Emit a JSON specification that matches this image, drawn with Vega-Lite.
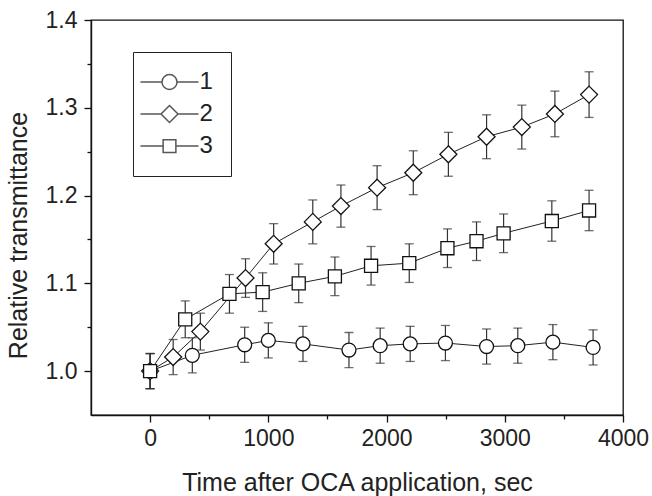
{
  "$schema": "https://vega.github.io/schema/vega-lite/v6.json",
  "width": 532,
  "height": 395,
  "autosize": {"type": "none"},
  "padding": {"left": 91, "top": 20, "right": 29, "bottom": 81},
  "background": "white",
  "config": {
    "font": "Liberation Sans",
    "view": {"stroke": "#111", "strokeWidth": 1.3},
    "axis": {
      "domainColor": "#111",
      "domainWidth": 1.4,
      "tickColor": "#111",
      "tickWidth": 1.3,
      "grid": false,
      "labelFont": "Liberation Sans",
      "labelFontSize": 23,
      "labelColor": "#222",
      "titleFont": "Liberation Sans",
      "titleFontSize": 25,
      "titleFontWeight": "normal",
      "titleColor": "#222"
    }
  },
  "datasets": {
    "points": [
      {"series": "1", "t": 0, "v": 1.000, "err": 0.020},
      {"series": "1", "t": 357, "v": 1.018, "err": 0.020},
      {"series": "1", "t": 800, "v": 1.030, "err": 0.020},
      {"series": "1", "t": 1000, "v": 1.035, "err": 0.020},
      {"series": "1", "t": 1293, "v": 1.031, "err": 0.020},
      {"series": "1", "t": 1682, "v": 1.024, "err": 0.020},
      {"series": "1", "t": 1946, "v": 1.029, "err": 0.020},
      {"series": "1", "t": 2200, "v": 1.031, "err": 0.020},
      {"series": "1", "t": 2498, "v": 1.032, "err": 0.020},
      {"series": "1", "t": 2846, "v": 1.028, "err": 0.020},
      {"series": "1", "t": 3110, "v": 1.029, "err": 0.020},
      {"series": "1", "t": 3407, "v": 1.033, "err": 0.020},
      {"series": "1", "t": 3747, "v": 1.027, "err": 0.020},
      {"series": "2", "t": 0, "v": 1.000, "err": 0.020},
      {"series": "2", "t": 195, "v": 1.016, "err": 0.020},
      {"series": "2", "t": 425, "v": 1.045, "err": 0.021},
      {"series": "2", "t": 807, "v": 1.106, "err": 0.022},
      {"series": "2", "t": 1045, "v": 1.145, "err": 0.023},
      {"series": "2", "t": 1376, "v": 1.170, "err": 0.025},
      {"series": "2", "t": 1614, "v": 1.188, "err": 0.024},
      {"series": "2", "t": 1920, "v": 1.209, "err": 0.025},
      {"series": "2", "t": 2226, "v": 1.226, "err": 0.025},
      {"series": "2", "t": 2523, "v": 1.247, "err": 0.025},
      {"series": "2", "t": 2846, "v": 1.267, "err": 0.025},
      {"series": "2", "t": 3144, "v": 1.278, "err": 0.025},
      {"series": "2", "t": 3424, "v": 1.293, "err": 0.026},
      {"series": "2", "t": 3713, "v": 1.315, "err": 0.026},
      {"series": "3", "t": 0, "v": 1.000, "err": 0.020},
      {"series": "3", "t": 297, "v": 1.059, "err": 0.021},
      {"series": "3", "t": 671, "v": 1.088, "err": 0.022},
      {"series": "3", "t": 952, "v": 1.090, "err": 0.022},
      {"series": "3", "t": 1257, "v": 1.100, "err": 0.022},
      {"series": "3", "t": 1563, "v": 1.108, "err": 0.022},
      {"series": "3", "t": 1869, "v": 1.120, "err": 0.022},
      {"series": "3", "t": 2192, "v": 1.123, "err": 0.022},
      {"series": "3", "t": 2515, "v": 1.140, "err": 0.022},
      {"series": "3", "t": 2761, "v": 1.148, "err": 0.022},
      {"series": "3", "t": 2990, "v": 1.157, "err": 0.022},
      {"series": "3", "t": 3398, "v": 1.171, "err": 0.023},
      {"series": "3", "t": 3713, "v": 1.183, "err": 0.023}
    ],
    "legendOnly": []
  },
  "data": {"name": "points"},
  "encoding": {
    "x": {
      "field": "t",
      "type": "quantitative",
      "scale": {"domain": [-500, 4000], "nice": false, "zero": false},
      "axis": {
        "title": "Time after OCA application, sec",
        "values": [0, 500, 1000, 1500, 2000, 2500, 3000, 3500, 4000],
        "format": "d",
        "labelExpr": "datum.value % 1000 === 0 ? datum.label : ''",
        "tickSize": {"condition": {"test": "datum.value % 1000 === 0", "value": 7}, "value": 4},
        "labelPadding": 5,
        "labelFlush": false,
        "labelOverlap": false,
        "titleBaseline": "alphabetic",
        "titleY": 75
      }
    },
    "y": {
      "field": "v",
      "type": "quantitative",
      "scale": {"domain": [0.95, 1.4], "nice": false, "zero": false},
      "axis": {
        "title": "Relative transmittance",
        "values": [1.0, 1.05, 1.1, 1.15, 1.2, 1.25, 1.3, 1.35, 1.4],
        "format": ".1f",
        "labelExpr": "abs(datum.value * 10 - round(datum.value * 10)) < 0.01 ? datum.label : ''",
        "tickSize": {"condition": {"test": "abs(datum.value * 10 - round(datum.value * 10)) < 0.01", "value": 7}, "value": 4},
        "labelPadding": 7,
        "labelFlush": false,
        "labelOverlap": false,
        "titleX": -73,
        "titleY": 215,
        "titleAngle": -90,
        "titleBaseline": "middle",
        "titleAlign": "center"
      }
    }
  },
  "layer": [
    {
      "mark": {"type": "line", "color": "#222", "strokeWidth": 1},
      "encoding": {"detail": {"field": "series", "type": "nominal"}, "order": {"field": "t", "type": "quantitative"}}
    },
    {
      "mark": {"type": "errorbar", "color": "#333", "ticks": {"size": 9, "thickness": 1.3}, "rule": {"strokeWidth": 1.2}},
      "encoding": {
        "yError": {"field": "err"},
        "detail": {"field": "series", "type": "nominal"}
      }
    },
    {
      "mark": {"type": "point", "filled": false, "color": "#111", "fill": "white", "fillOpacity": 1, "stroke": "#111", "strokeWidth": 1.3, "size": 225, "opacity": 1},
      "encoding": {
        "shape": {
          "field": "series",
          "type": "nominal",
          "scale": {
            "domain": ["1", "2", "3"],
            "range": [
              "M0.93,0A0.93,0.93,0,1,1,-0.93,0A0.93,0.93,0,1,1,0.93,0Z",
              "M0,-1.13L1.13,0L0,1.13L-1.13,0Z",
              "M-0.87,-0.87H0.87V0.87H-0.87Z"
            ]
          },
          "legend": null
        }
      }
    },
    {
      "data": {"name": "legendOnly"},
      "mark": {"type": "point", "filled": false, "color": "#111", "fill": "white", "stroke": "#111", "size": 225},
      "encoding": {
        "shape": {
          "field": "series",
          "type": "nominal",
          "scale": {
            "domain": ["1", "2", "3"],
            "range": [
              "M-3.87,0H-1M1,0H3.87M1,0A1,1,0,1,1,-1,0A1,1,0,1,1,1,0Z",
              "M-3.87,0H-1.13M1.13,0H3.87M0,-1.13L1.13,0L0,1.13L-1.13,0Z",
              "M-3.87,0H-0.85M0.85,0H3.87M-0.85,-0.85H0.85V0.85H-0.85Z"
            ]
          },
          "legend": {
            "title": null,
            "orient": "none",
            "legendX": 42,
            "legendY": 32,
            "strokeColor": "#222",
            "padding": 18,
            "rowPadding": 8,
            "symbolSize": 225,
            "symbolOffset": 6.5,
            "labelOffset": 18,
            "labelFont": "Liberation Sans",
            "labelFontSize": 24,
            "labelColor": "#222"
          }
        }
      }
    }
  ],
  "resolve": {"scale": {"shape": "independent"}, "legend": {"shape": "independent"}}
}
